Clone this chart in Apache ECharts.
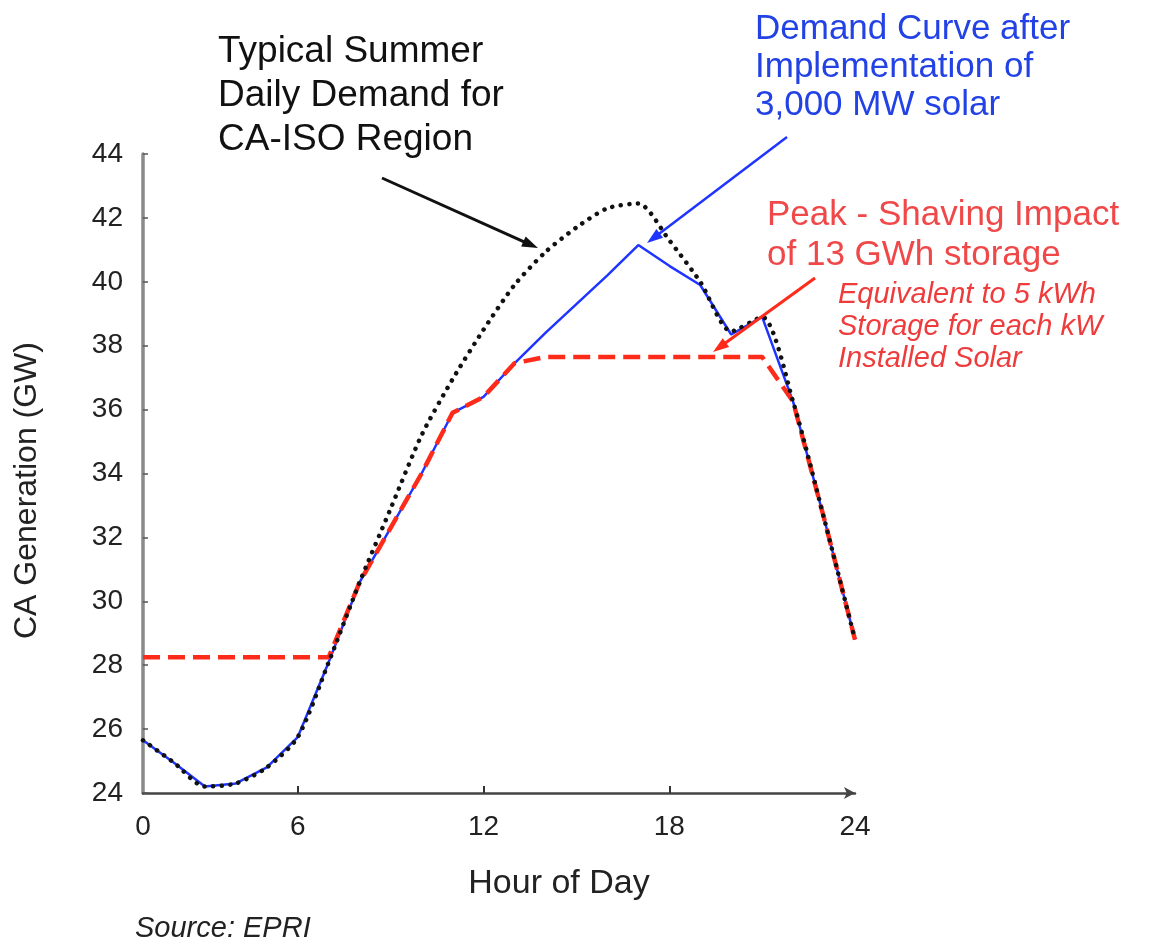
<!DOCTYPE html>
<html>
<head>
<meta charset="utf-8">
<script src="https://cdn.jsdelivr.net/npm/echarts@6/dist/echarts.min.js"></script>
<style>html,body{margin:0;padding:0;background:#fff;}#c{width:1149px;height:947px;}</style>
</head>
<body>
<div id="c"></div>
<script>
const hours = [1,2,3,4,5,6,7,8,9,10,11,12,13,14,15,16,17,18,19,20,21,22,23,24];
const typicalDemand = [25.65,24.95,24.2,24.3,24.8,25.75,28.1,30.6,32.9,35.2,36.95,38.5,39.9,40.93,41.7,42.3,42.45,41.3,40.0,38.45,38.9,36.25,32.6,28.8];
const solarDemand   = [25.65,24.95,24.2,24.3,24.8,25.75,28.1,30.6,32.3,34.0,35.9,36.4,37.45,38.4,39.3,40.2,41.15,40.5,39.9,38.35,38.9,36.25,32.6,28.8];
const storageDemand = [28.25,28.25,28.25,28.25,28.25,28.25,28.25,30.6,32.3,34.0,35.9,36.4,37.45,37.65,37.65,37.65,37.65,37.65,37.65,37.65,37.65,36.25,32.6,28.8];
const xTickLabels = [1,6,12,18,24];
const xTickText = ['0','6','12','18','24'];

const pairs = arr => hours.map((h,i)=>[h,arr[i]]);

function arrow(x1,y1,x2,y2,color,w,hl,hw){
  const dx=x2-x1, dy=y2-y1, L=Math.hypot(dx,dy), ux=dx/L, uy=dy/L;
  const bx=x2-ux*hl, by=y2-uy*hl;
  return [
    {type:'line', shape:{x1:x1,y1:y1,x2:bx+ux*2,y2:by+uy*2}, style:{stroke:color,lineWidth:w}, z:100},
    {type:'polygon', shape:{points:[[x2,y2],[bx-uy*hw/2,by+ux*hw/2],[bx+uy*hw/2,by-ux*hw/2]]}, style:{fill:color}, z:100}
  ];
}

const chart = echarts.init(document.getElementById('c'));
chart.setOption({
  backgroundColor:'#fff',
  animation:false,
  grid:{left:143,right:294,top:154,bottom:154,containLabel:false},
  xAxis:{
    type:'value', min:1, max:24,
    name:'Hour of Day', nameLocation:'middle', nameGap:74,
    nameTextStyle:{fontFamily:'Liberation Sans',fontSize:34,color:'#222',padding:[0,0,0,120]},
    axisLine:{show:true,lineStyle:{color:'#444',width:2.5},symbol:['none','arrow'],symbolSize:[9,11]},
    axisTick:{show:true,inside:true,length:7,customValues:[6,12,18],lineStyle:{color:'#333',width:2}},
    axisLabel:{customValues:xTickLabels,formatter:v=>xTickText[xTickLabels.indexOf(v)],fontFamily:'Liberation Sans',fontSize:28,color:'#222',margin:20},
    splitLine:{show:false}
  },
  yAxis:{
    type:'value', min:24, max:44, interval:2,
    name:'CA Generation (GW)', nameLocation:'middle', nameGap:100,
    nameTextStyle:{fontFamily:'Liberation Sans',fontSize:32,color:'#222',padding:[0,34,0,0]},
    axisLine:{show:true,lineStyle:{color:'#8a8a8a',width:3.5}},
    axisTick:{show:true,inside:true,length:5,lineStyle:{color:'#555',width:1.5}},
    axisLabel:{fontFamily:'Liberation Sans',fontSize:28,color:'#222',margin:20},
    splitLine:{show:false}
  },
  series:[
    {name:'Solar',type:'line',data:pairs(solarDemand),showSymbol:false,z:2,
     lineStyle:{color:'#1f35ff',width:2.5}},
    {name:'Storage',type:'line',data:pairs(storageDemand),showSymbol:false,z:3,
     lineStyle:{color:'#ff2b1a',width:4.5,type:[17,8]}},
    {name:'Typical',type:'line',data:pairs(typicalDemand),showSymbol:false,z:4,smooth:0.25,
     lineStyle:{color:'#111',width:4.5,type:[0.1,8.5],cap:'round'}}
  ],
  graphic:[
    {type:'text',left:218,top:30,z:100,style:{text:'Typical Summer\nDaily Demand for\nCA-ISO Region',font:'37px "Liberation Sans"',lineHeight:44,fill:'#111'}},
    {type:'text',left:755,top:10,z:100,style:{text:'Demand Curve after\nImplementation of\n3,000 MW solar',font:'35px "Liberation Sans"',lineHeight:38,fill:'#2342e6'}},
    {type:'text',left:767,top:195,z:100,style:{text:'Peak - Shaving Impact\nof 13 GWh storage',font:'35px "Liberation Sans"',lineHeight:40,fill:'#f04848'}},
    {type:'text',left:838,top:279,z:100,style:{text:'Equivalent to 5 kWh\nStorage for each kW\nInstalled Solar',font:'italic 29px "Liberation Sans"',lineHeight:32,fill:'#ee3c3c'}},
    {type:'text',left:135,top:914,z:100,style:{text:'Source: EPRI',font:'italic 29px "Liberation Sans"',fill:'#222'}},
    ...arrow(382,178,538,248,'#111',3,16,11),
    ...arrow(787,137,647,243,'#1f35ff',2.5,16,11),
    ...arrow(815,278,713,352,'#ff2b1a',3,16,11)
  ]
});
</script>
</body>
</html>
